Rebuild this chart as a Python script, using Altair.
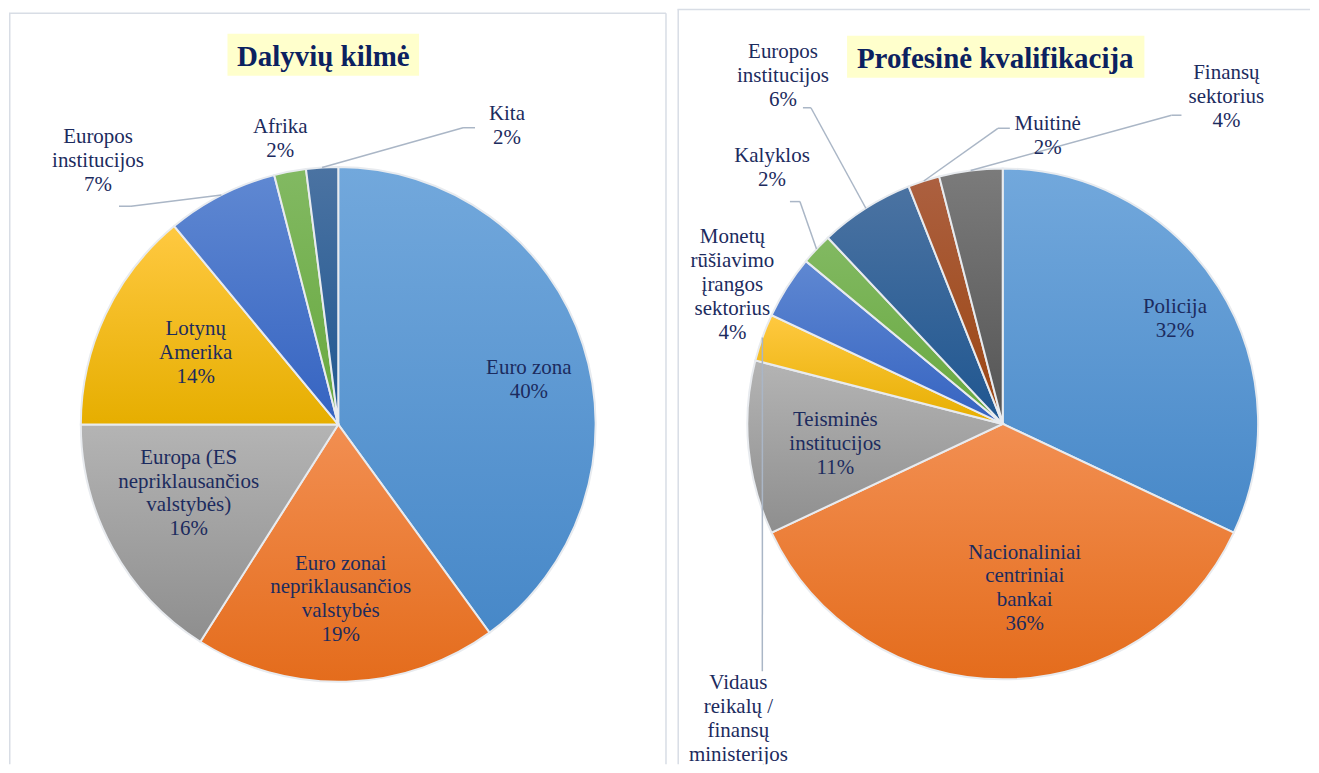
import math
import altair as alt
import pandas as pd

FONT = "Liberation Serif"
LABEL_COLOR = "#1C2B5E"
TITLE_COLOR = "#0B2160"
LEADER_COLOR = "#AAB6C6"
BORDER_COLOR = "#D8DDE5"
SLICE_STROKE = "#E8EBEF"
TITLE_BG = "#FFFFCC"
LINE_H = 24

# ---------------- data: Dalyvių kilmė ----------------
origin_categories = [
    "Euro zona",
    "Euro zonai nepriklausančios valstybės",
    "Europa (ES nepriklausančios valstybės)",
    "Lotynų Amerika",
    "Europos institucijos",
    "Afrika",
    "Kita",
]
origin_values = [40, 19, 16, 14, 7, 2, 2]
origin_labels = [
    "Euro zona",
    "Euro zonai\nnepriklausančios\nvalstybės",
    "Europa (ES\nnepriklausančios\nvalstybės)",
    "Lotynų\nAmerika",
    "Europos\ninstitucijos",
    "Afrika",
    "Kita",
]

# ---------------- data: Profesinė kvalifikacija ----------------
qual_categories = [
    "Policija",
    "Nacionaliniai centriniai bankai",
    "Teisminės institucijos",
    "Vidaus reikalų / finansų ministerijos",
    "Monetų rūšiavimo įrangos sektorius",
    "Kalyklos",
    "Europos institucijos",
    "Muitinė",
    "Finansų sektorius",
]
qual_values = [32, 36, 11, 3, 4, 2, 6, 2, 4]
qual_labels = [
    "Policija",
    "Nacionaliniai\ncentriniai\nbankai",
    "Teisminės\ninstitucijos",
    "Vidaus\nreikalų /\nfinansų\nministerijos",
    "Monetų\nrūšiavimo\nįrangos\nsektorius",
    "Kalyklos",
    "Europos\ninstitucijos",
    "Muitinė",
    "Finansų\nsektorius",
]

# ---------------- styles (gradient top, bottom) ----------------
BLUE = ("#72A8DC", "#4788C8")
ORANGE = ("#F28F52", "#E46C1C")
GRAY = ("#B4B4B4", "#8E8E8E")
GOLD = ("#FFC941", "#E6AE00")
ROYAL = ("#5F88D2", "#3563C1")
GREEN = ("#82B962", "#67A83E")
NAVY = ("#4B73A2", "#1F5690")
RUST = ("#AC6040", "#9B4511")
DARKGRAY = ("#7B7B7B", "#545454")

origin_colors = [BLUE, ORANGE, GRAY, GOLD, ROYAL, GREEN, NAVY]
qual_colors = [BLUE, ORANGE, GRAY, GOLD, ROYAL, GREEN, NAVY, RUST, DARKGRAY]

# label layout: (angle offset from slice middle in degrees, distance as share of radius)
origin_label_layout = [(5, 0.76), (1, 0.68), (4, 0.64), (1.5, 0.62),
                       (-15.4, 1.384), (-0.7, 1.13), (33.1, 1.331)]
# leader lines: slice index -> (elbow offset from label, tail offset from label)
origin_leaders = {4: ((33, 45), (21, 45)), 6: ((-44, 1.5), (-32, 1.5))}

qual_label_layout = [(1, 0.79), (-7.6, 0.65), (-1.4, 0.66), (-69.1, 1.587),
                     (-5.2, 1.19), (4.8, 1.35), (0.1, 1.61), (26.9, 1.14), (41.6, 1.55)]
qual_leaders = {3: ((24, -60), (24, -60)), 5: ((28, 34), (18, 34)),
                6: ((28, 31.5), (20, 31.5)), 7: ((-50, -8), (-38, -8)),
                8: ((-55, 18), (-45, 18))}


def grad(c):
    return {"gradient": "linear", "x1": 0, "y1": 0, "x2": 0, "y2": 1,
            "stops": [{"offset": 0, "color": c[0]}, {"offset": 1, "color": c[1]}]}


def pie_panel(cats, vals, labels, colors, layout, leaders, title,
              W, H, CX, CY, R, border_top, right_border, tbox, tpos):
    n = len(cats)
    texts = [f"{l}\n{v}%" for l, v in zip(labels, vals)]
    df = pd.DataFrame({
        "cat": cats,
        "value": vals,
        "order": list(range(n)),
        "label": texts,
        "nl": [t.count("\n") + 1 for t in texts],
        "delta": [d for d, _ in layout],
        "rf": [r for _, r in layout],
        "lead": [1 if i in leaders else 0 for i in range(n)],
        "edx": [leaders[i][0][0] if i in leaders else 0 for i in range(n)],
        "edy": [leaders[i][0][1] if i in leaders else 0 for i in range(n)],
        "tdx": [leaders[i][1][0] if i in leaders else 0 for i in range(n)],
        "tdy": [leaders[i][1][1] if i in leaders else 0 for i in range(n)],
    })
    base = alt.Chart(df).transform_window(
        cum="sum(value)", sort=[{"field": "order"}], frame=[None, 0]
    ).transform_calculate(
        start="datum.cum - datum.value",
        mid="datum.cum - datum.value / 2",
    ).transform_calculate(
        ang="(datum.mid * 3.6 + datum.delta) * PI / 180",
        mang="datum.mid * 3.6 * PI / 180",
    ).transform_calculate(
        lx=f"{CX} + datum.rf * {R} * sin(datum.ang)",
        ly=f"{CY} - datum.rf * {R} * cos(datum.ang)",
        ex=f"{CX} + {R} * sin(datum.mang)",
        ey=f"{CY} - {R} * cos(datum.mang)",
    ).transform_calculate(
        bx="datum.lx + datum.edx", by="datum.ly + datum.edy",
        tx="datum.lx + datum.tdx", ty="datum.ly + datum.tdy",
        tly=f"datum.ly - (datum.nl - 1) * {LINE_H / 2}",
    )

    theta_scale = alt.Scale(domain=[0, 100], range=[0, 2 * math.pi])
    arcs = []
    for i, c in enumerate(colors):
        arcs.append(
            base.transform_filter(f"datum.order == {i}").mark_arc(
                outerRadius=R, fill=grad(c), stroke=SLICE_STROKE, strokeWidth=2
            ).encode(
                theta=alt.Theta("start:Q", scale=theta_scale),
                theta2=alt.Theta2("cum:Q"),
                x=alt.value(CX), y=alt.value(CY),
            )
        )

    lead = base.transform_filter("datum.lead == 1")
    seg1 = lead.mark_rule(color=LEADER_COLOR, strokeWidth=1.5).encode(
        x=alt.X("ex:Q", scale=None, axis=None), y=alt.Y("ey:Q", scale=None, axis=None),
        x2="bx:Q", y2="by:Q")
    seg2 = lead.mark_rule(color=LEADER_COLOR, strokeWidth=1.5).encode(
        x=alt.X("bx:Q", scale=None, axis=None), y=alt.Y("by:Q", scale=None, axis=None),
        x2="tx:Q", y2="ty:Q")

    text = base.mark_text(
        font=FONT, fontSize=21, lineHeight=LINE_H, color=LABEL_COLOR, lineBreak="\n",
        align="center", baseline="middle", clip=True
    ).encode(
        x=alt.X("lx:Q", scale=None, axis=None),
        y=alt.Y("tly:Q", scale=None, axis=None),
        text="label:N",
    )

    one = alt.Data(values=[{"t": title}])
    borders = [
        alt.Chart(one).mark_rule(color=BORDER_COLOR, strokeWidth=1.5).encode(
            x=alt.value(0.75), y=alt.value(border_top), y2=alt.value(H)),
        alt.Chart(one).mark_rule(color=BORDER_COLOR, strokeWidth=1.5).encode(
            x=alt.value(0), x2=alt.value(right_border if right_border else W),
            y=alt.value(border_top)),
    ]
    if right_border:
        borders.append(alt.Chart(one).mark_rule(color=BORDER_COLOR, strokeWidth=1.5).encode(
            x=alt.value(right_border), y=alt.value(border_top), y2=alt.value(H)))

    rect = alt.Chart(one).mark_rect(fill=TITLE_BG).encode(
        x=alt.value(tbox[0]), x2=alt.value(tbox[1]),
        y=alt.value(tbox[2]), y2=alt.value(tbox[3]))
    ttext = alt.Chart(one).mark_text(
        font=FONT, fontSize=29, fontWeight="bold", color=TITLE_COLOR,
        align="center", baseline="alphabetic"
    ).encode(x=alt.value(tpos[0]), y=alt.value(tpos[1]), text="t:N")

    return alt.layer(*borders, rect, ttext, *arcs, seg1, seg2, text).properties(
        width=W, height=H)


left = pie_panel(origin_categories, origin_values, origin_labels, origin_colors,
                 origin_label_layout, origin_leaders, "Dalyvių kilmė",
                 W=660, H=757, CX=330, CY=416.5, R=258, border_top=4.5,
                 right_border=658.5, tbox=(219, 411, 25, 67), tpos=(315, 57))
right = pie_panel(qual_categories, qual_values, qual_labels, qual_colors,
                  qual_label_layout, qual_leaders, "Profesinė kvalifikacija",
                  W=634, H=757, CX=326, CY=416, R=256, border_top=0.75,
                  right_border=None, tbox=(170, 468, 27, 69), tpos=(318.5, 59))

chart = alt.hconcat(left, right, spacing=9).properties(
    padding={"left": 0, "top": 0, "right": 0, "bottom": 0}
).configure_view(stroke=None)

chart.save("out.html", embed_options={"renderer": "svg", "actions": False})
